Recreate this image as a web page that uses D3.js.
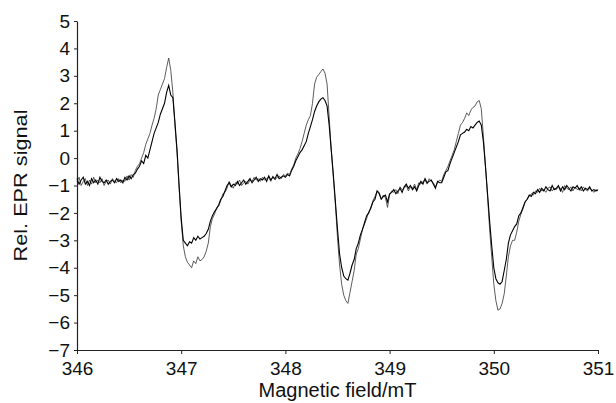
<!DOCTYPE html>
<html>
<head>
<meta charset="utf-8">
<script src="https://cdn.jsdelivr.net/npm/d3@7"></script>
<style>
  body { margin: 0; background: #fff; }
  text { font-family: "Liberation Sans", Arial, sans-serif; }
</style>
</head>
<body>
<div id="chart"></div>
<script>
// field sweep 346 -> 351 mT, one sample every 0.02 mT
var fieldStart = 346;
var fieldStep = 0.02;

var xTicks = [346, 347, 348, 349, 350, 351];
var yTicks = [-7, -6, -5, -4, -3, -2, -1, 0, 1, 2, 3, 4, 5];

// smaller spectrum (solid)
var signalB = [
  -0.75,-0.95,-0.8,-0.7,-0.95,-0.85,-1.0,-0.75,-0.9,-0.8,
  -0.95,-0.7,-0.85,-0.9,-0.8,-0.95,-0.85,-0.8,-0.9,-0.75,
  -0.85,-0.8,-0.9,-0.7,-0.8,-0.65,-0.75,-0.6,-0.55,-0.4,
  -0.3,-0.1,-0.2,0.1,0.0,0.3,0.6,0.9,1.1,1.3,
  1.6,1.8,2.0,2.4,2.65,2.3,2.2,1.3,0.3,-1.0,
  -2.2,-3.0,-3.1,-3.2,-3.05,-3.1,-2.9,-3.0,-2.85,-2.95,
  -2.9,-2.85,-2.75,-2.6,-2.3,-2.1,-1.95,-1.85,-1.7,-1.5,
  -1.4,-1.2,-1.0,-0.9,-1.05,-0.95,-1.0,-0.85,-1.0,-0.9,
  -0.8,-0.95,-0.85,-0.75,-0.9,-0.8,-0.7,-0.85,-0.75,-0.8,
  -0.7,-0.85,-0.65,-0.8,-0.7,-0.75,-0.6,-0.75,-0.7,-0.65,
  -0.7,-0.6,-0.65,-0.45,-0.3,-0.1,0.05,0.2,0.3,0.45,
  0.6,0.9,1.15,1.4,1.7,1.9,2.05,2.15,2.2,2.1,
  1.9,1.2,0.3,-0.6,-1.6,-2.6,-3.5,-4.0,-4.3,-4.4,
  -4.45,-4.2,-3.9,-3.7,-3.3,-3.1,-2.8,-2.6,-2.35,-2.1,
  -2.0,-1.8,-1.6,-1.5,-1.2,-1.3,-1.5,-1.4,-1.35,-1.6,
  -1.3,-1.25,-1.15,-1.3,-1.2,-1.1,-1.25,-1.05,-0.95,-1.1,
  -1.0,-1.15,-1.05,-1.2,-1.0,-0.85,-0.95,-0.75,-0.9,-0.85,
  -0.8,-0.95,-1.1,-0.85,-0.9,-0.9,-0.7,-0.5,-0.45,-0.2,
  0.0,0.2,0.4,0.6,0.85,0.9,0.95,1.05,1.0,1.15,
  1.1,1.2,1.3,1.35,1.2,0.6,-0.3,-1.3,-2.3,-3.2,
  -4.0,-4.4,-4.55,-4.6,-4.5,-4.1,-3.7,-3.1,-2.8,-2.65,
  -2.5,-2.4,-2.1,-2.0,-1.8,-1.6,-1.5,-1.35,-1.4,-1.25,
  -1.3,-1.15,-1.25,-1.1,-1.2,-1.05,-1.15,-1.2,-1.0,-1.15,
  -1.1,-1.0,-1.2,-1.05,-1.15,-1.0,-1.1,-1.2,-1.05,-1.1,
  -1.0,-1.15,-1.05,-1.2,-1.1,-1.15,-1.05,-1.2,-1.15,-1.2,
  -1.15
];

// larger spectrum (thin, broken-looking trace)
var signalA = [
  -0.85,-0.7,-1.0,-0.85,-0.75,-1.0,-0.8,-0.95,-0.7,-0.9,
  -0.8,-0.9,-0.75,-1.0,-0.85,-0.8,-0.95,-0.75,-0.85,-0.9,
  -0.75,-0.9,-0.8,-0.85,-0.65,-0.8,-0.6,-0.7,-0.45,-0.3,
  -0.2,0.0,0.2,0.5,0.7,0.9,1.2,1.45,1.8,2.3,
  2.5,2.7,2.9,3.3,3.65,3.2,2.4,1.2,0.2,-1.1,
  -2.3,-3.2,-3.6,-3.8,-3.9,-4.0,-3.75,-3.85,-3.6,-3.75,
  -3.7,-3.6,-3.4,-3.1,-2.5,-2.2,-2.05,-1.8,-1.75,-1.55,
  -1.3,-1.25,-1.1,-0.85,-1.0,-1.1,-0.9,-0.95,-0.8,-1.0,
  -0.9,-0.85,-0.95,-0.8,-0.85,-0.7,-0.8,-0.75,-0.85,-0.7,
  -0.8,-0.75,-0.7,-0.85,-0.65,-0.8,-0.7,-0.65,-0.75,-0.6,
  -0.65,-0.55,-0.6,-0.4,-0.25,0.0,0.15,0.35,0.6,0.9,
  1.2,1.4,1.55,2.0,2.7,2.95,3.05,3.15,3.25,3.1,
  2.7,1.5,0.3,-0.7,-1.7,-2.9,-3.9,-4.6,-5.0,-5.2,
  -5.3,-4.9,-4.5,-4.1,-3.5,-3.3,-2.95,-2.6,-2.4,-2.2,
  -1.95,-1.85,-1.55,-1.4,-1.2,-1.25,-1.5,-1.35,-1.45,-1.8,
  -1.35,-1.2,-1.25,-1.15,-1.3,-1.05,-1.15,-1.1,-1.0,-1.2,
  -1.05,-1.1,-0.95,-1.15,-0.9,-0.95,-0.85,-0.8,-0.95,-0.75,
  -0.85,-0.9,-1.05,-0.9,-0.8,-0.85,-0.6,-0.45,-0.3,-0.1,
  0.1,0.3,0.6,0.9,1.2,1.3,1.45,1.65,1.55,1.75,
  1.85,1.9,2.05,2.1,1.8,0.8,-0.3,-1.4,-2.6,-3.6,
  -4.6,-5.2,-5.55,-5.5,-5.3,-4.95,-4.3,-3.6,-3.2,-3.0,
  -3.0,-2.7,-2.3,-2.05,-1.85,-1.6,-1.5,-1.4,-1.3,-1.35,
  -1.2,-1.25,-1.1,-1.2,-1.15,-1.25,-1.1,-1.05,-1.2,-1.1,
  -1.15,-1.05,-1.1,-1.25,-1.0,-1.1,-1.15,-1.05,-1.2,-1.05,
  -1.15,-1.1,-1.2,-1.05,-1.15,-1.2,-1.1,-1.15,-1.25,-1.15,
  -1.2
];

var svgWidth = 616;
var svgHeight = 403;
var margin = { top: 21, right: 18, bottom: 53, left: 77 };
var width = svgWidth - margin.left - margin.right;
var height = svgHeight - margin.top - margin.bottom;

var svg = d3.select("#chart")
  .append("svg")
  .attr("width", svgWidth)
  .attr("height", svgHeight);

var chartGroup = svg.append("g")
  .attr("transform", `translate(${margin.left}, ${margin.top})`);

var xScale = d3.scaleLinear().domain([346, 351]).range([0, width]);
var yScale = d3.scaleLinear().domain([-7, 5]).range([height, 0]);

// axes
var xAxis = chartGroup.append("g")
  .attr("transform", `translate(0, ${height})`)
  .call(d3.axisBottom(xScale).tickValues(xTicks).tickFormat(d3.format("d"))
    .tickSize(4).tickSizeOuter(0).tickPadding(8));

var yAxis = chartGroup.append("g")
  .call(d3.axisLeft(yScale).tickValues(yTicks).tickSize(3).tickSizeOuter(0).tickPadding(4));

[xAxis, yAxis].forEach(function(ax) {
  ax.selectAll("text").attr("font-size", 19).attr("fill", "#111")
    .style("font-family", '"Liberation Sans", Arial, sans-serif');
  ax.selectAll("line").attr("stroke", "#222");
  ax.select(".domain").attr("stroke", "#222").attr("stroke-width", 1.2);
});

// traces
var line = d3.line()
  .x((d, i) => xScale(fieldStart + i * fieldStep))
  .y(d => yScale(d));

chartGroup.append("path")
  .attr("d", line(signalA))
  .attr("fill", "none")
  .attr("stroke", "#333")
  .attr("stroke-width", 0.8);

chartGroup.append("path")
  .attr("d", line(signalB))
  .attr("fill", "none")
  .attr("stroke", "#000")
  .attr("stroke-width", 1.1);

// axis titles
svg.append("text")
  .attr("x", margin.left + width / 2)
  .attr("y", 397)
  .attr("text-anchor", "middle")
  .attr("font-size", 20)
  .attr("fill", "#111")
  .text("Magnetic field/mT");

svg.append("text")
  .attr("transform", `translate(27, ${margin.top + height / 2}) rotate(-90)`)
  .attr("text-anchor", "middle")
  .attr("font-size", 19)
  .attr("textLength", 152)
  .attr("lengthAdjust", "spacingAndGlyphs")
  .attr("fill", "#111")
  .text("Rel. EPR signal");
</script>
</body>
</html>
